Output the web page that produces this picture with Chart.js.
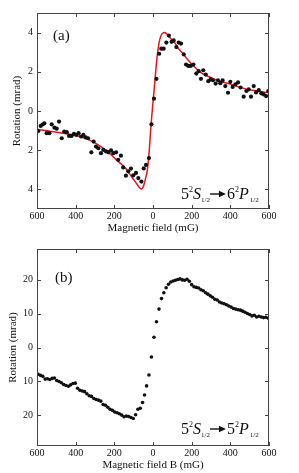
<!DOCTYPE html>
<html>
<head>
<meta charset="utf-8">
<script src="https://cdn.jsdelivr.net/npm/chart.js@4.4.1/dist/chart.umd.min.js"></script>
<style>
  html, body { margin: 0; padding: 0; background: #fff; }
  #wrap { position: relative; width: 299px; height: 473px; }
  canvas { position: absolute; left: 0; }
</style>
</head>
<body>
<div id="wrap">
  <canvas id="chartA" width="299" height="236" style="top:0"></canvas>
  <canvas id="chartB" width="299" height="237" style="top:236px"></canvas>
</div>
<script>
// panel (a): measured points
const topX = [-593,-581,-571,-562,-550,-536,-524,-510,-498,-486,-472,-459,-446,-434,-421,-409,-397,-385,-372,-360,-348,-336,
  -319,-307,-295,-283,-269,-257,-243,-231,-217,-205,-191,-180,-166,-154,-140,-128,-114,-102,-88,-76,-60,-48,-36,-21,
  -8,5,18,32,43,55,69,82,96,107,121,133,145,159,171,183,195,209,
  224,236,248,260,273,286,298,310,324,336,348,360,374,388,400,412,426,440,453,469,483,495,507,521,533,547,560,572,585,596];
const topY = [-1.02,-0.76,-0.69,-0.63,-1.13,-1.13,-0.68,-0.85,-0.9,-0.54,-1.39,-1.05,-1.08,-1.27,-1.27,-1.17,-1.22,-1.13,-1.3,-1.22,-1.35,-1.39,
  -2.11,-1.56,-1.81,-1.9,-2.15,-1.98,-2.06,-2.1,-2.01,-2.15,-2.11,-2.49,-2.28,-2.88,-3.3,-3.08,-2.94,-3.28,-3.16,-3.42,-3.6,-2.93,-2.75,-2.4,
  -0.68,0.63,1.64,2.92,3.18,3.18,3.49,3.85,3.53,3.6,3.26,3.49,3.44,2.89,2.37,2.3,2.3,2.37,
  1.91,2.03,1.64,2.08,1.86,1.52,1.61,1.57,1.4,1.57,1.42,1.56,1.27,0.93,1.49,1.23,1.36,1.46,1.2,0.73,1.02,1.1,0.73,1.27,0.95,1.07,0.9,0.85,0.76,1.02];

// panel (a): fitted curve (red)
const fitX = [-600,-500,-400,-330,-260,-220,-190,-170,-140,-120,-100,-85,-70,-60,-50,-40,-30,-20,-12,-5,0,5,10,20,30,40,50,60,70,85,100,115,130,150,180,210,250,300,350,400,460,530,600];
const fitY = [-0.93,-1.08,-1.25,-1.47,-1.88,-2.2,-2.48,-2.66,-2.95,-3.22,-3.5,-3.7,-3.92,-3.98,-3.86,-3.5,-3.05,-2.1,-0.96,-0.1,0.45,1.0,1.55,2.65,3.4,3.82,3.97,4.0,3.95,3.78,3.6,3.45,3.2,2.98,2.62,2.3,1.95,1.7,1.5,1.37,1.18,1.03,0.93];

// panel (b): measured points
const botX = [-594,-582,-570,-558,-546,-534,-522,-510,-498,-486,-474,-462,-450,-438,-426,-414,-402,-390,-378,-366,-354,-342,-330,-318,-306,-294,-282,-270,-258,-246,-234,-222,-210,-198,-186,-174,-162,-150,-138,-126,-114,-102,-90,-78,-66,-54,
  -44,-33,-21,-8,5,18,31,44,56,68,80,
  92,104,116,128,140,152,164,176,188,200,212,224,236,248,260,272,284,296,308,320,332,344,356,368,380,392,404,416,428,440,452,464,476,488,500,512,524,536,548,560,572,584,596];
const botY = [-7.9,-8.2,-8.5,-9.3,-9.2,-9.4,-9.1,-9.0,-9.7,-10.0,-10.4,-10.9,-11.2,-11.4,-11.0,-10.6,-10.5,-12.0,-12.6,-12.8,-13.0,-13.6,-14.2,-14.4,-15.0,-15.3,-15.5,-15.8,-16.8,-17.0,-17.6,-18.2,-18.5,-19.0,-19.2,-19.5,-19.9,-20.4,-20.2,-20.3,-20.6,-20.9,-19.8,-18.2,-17.9,-16.2,
  -14.0,-11.3,-8.1,-2.8,3.0,7.6,11.3,14.4,16.1,17.6,18.6,
  19.3,19.6,19.8,20.0,20.2,19.9,19.8,20.1,19.5,18.5,17.9,17.7,17.5,17.0,16.7,16.1,15.7,15.2,14.8,14.2,14.0,13.4,13.1,12.9,12.6,12.2,11.9,11.5,11.3,11.1,11.0,10.7,10.4,10.0,9.7,9.3,9.5,9.0,9.2,9.0,8.8,8.9,8.6];

const xTicks = [-600,-400,-200,0,200,400,600];
const topYTicks = [-4,-2,0,2,4];
const botYTicks = [-20,-10,0,10,20];

const SERIF = '"Liberation Serif", "DejaVu Serif", serif';
const INK = '#111';

const pairs = (xs, ys) => xs.map((x, i) => ({ x, y: ys[i] }));

// box around the plot with inward ticks on all four sides
const framePlugin = {
  id: 'frame',
  afterDatasetsDraw(chart) {
    const { ctx, chartArea: a, scales: { x, y } } = chart;
    ctx.save();
    ctx.strokeStyle = '#444';
    ctx.lineWidth = 1;
    ctx.strokeRect(a.left + 0.5, a.top + 0.5, a.right - a.left - 1, a.bottom - a.top - 1);
    ctx.beginPath();
    x.ticks.forEach(t => {
      const px = Math.round(x.getPixelForValue(t.value)) + 0.5;
      ctx.moveTo(px, a.bottom); ctx.lineTo(px, a.bottom - 4);
      ctx.moveTo(px, a.top); ctx.lineTo(px, a.top + 4);
    });
    y.ticks.forEach(t => {
      const py = Math.round(y.getPixelForValue(t.value)) + 0.5;
      ctx.moveTo(a.left, py); ctx.lineTo(a.left + 4, py);
      ctx.moveTo(a.right, py); ctx.lineTo(a.right - 4, py);
    });
    ctx.stroke();
    ctx.restore();
  }
};

// panel tag and the transition label
const textPlugin = {
  id: 'panelText',
  afterDraw(chart, args, o) {
    const ctx = chart.ctx;
    ctx.save();
    ctx.fillStyle = INK;
    ctx.strokeStyle = INK;
    ctx.textBaseline = 'alphabetic';
    ctx.textAlign = 'left';
    ctx.font = '15px ' + SERIF;
    ctx.fillText(o.tag, o.tagX, o.tagY);
    let x = o.tx;
    const b = o.ty;
    const put = (s, size, dy, italic, gap) => {
      ctx.font = (italic ? 'italic ' : '') + size + 'px ' + SERIF;
      ctx.fillText(s, x, b + dy);
      x += ctx.measureText(s).width + (gap || 0);
    };
    put(o.lower[0], 16, 0, false);
    put('2', 8, -7, false);
    put('S', 16, 0, true);
    put('1/2', 7, 3, false, 0);
    // arrow: shaft and solid head
    const ay = b - 5;
    ctx.lineWidth = 1.4;
    ctx.beginPath(); ctx.moveTo(x, ay); ctx.lineTo(x + 10, ay); ctx.stroke();
    ctx.beginPath(); ctx.moveTo(x + 9, ay - 3.2); ctx.lineTo(x + 16, ay); ctx.lineTo(x + 9, ay + 3.2); ctx.closePath(); ctx.fill();
    x += 17;
    put(o.upper[0], 16, 0, false);
    put('2', 8, -7, false);
    put(o.upper[1], 16, 0, true, 1);
    put('1/2', 7, 3, false);
    ctx.restore();
  }
};

function makeOptions(yMin, yMax, yTicks, xTitle, yTitlePad, text) {
  return {
    responsive: false,
    animation: false,
    layout: { padding: { top: 13, right: 30, left: 0, bottom: 0 }, autoPadding: false },
    plugins: { legend: { display: false }, tooltip: { enabled: false }, panelText: text },
    scales: {
      x: {
        type: 'linear', min: -600, max: 600,
        afterBuildTicks: s => { s.ticks = xTicks.map(v => ({ value: v })); },
        afterFit: s => { s.height = 27; },
        grid: { display: false, drawTicks: false },
        border: { display: false },
        ticks: { callback: v => Math.abs(v), color: INK, padding: 1, maxRotation: 0, autoSkip: false, font: { family: SERIF, size: 10 } },
        title: { display: true, text: xTitle, color: INK, padding: { top: 0, bottom: 1 }, font: { family: SERIF, size: 11 } }
      },
      y: {
        type: 'linear', min: yMin, max: yMax,
        afterBuildTicks: s => { s.ticks = yTicks.map(v => ({ value: v })); },
        afterFit: s => { s.width = 37; },
        grid: { display: false, drawTicks: false },
        border: { display: false },
        ticks: { callback: v => Math.abs(v), color: INK, padding: 4, font: { family: SERIF, size: 10 } },
        title: { display: true, text: 'Rotation (mrad)', color: INK, padding: { top: yTitlePad, bottom: 0 }, font: { family: SERIF, size: 11 } }
      }
    }
  };
}

new Chart(document.getElementById('chartA'), {
  type: 'scatter',
  data: {
    datasets: [
      { data: pairs(topX, topY), pointRadius: 2.1, pointBackgroundColor: INK, pointBorderWidth: 0 },
      { type: 'line', data: pairs(fitX, fitY), showLine: true, borderColor: '#e8161c', borderWidth: 1.5, pointRadius: 0, cubicInterpolationMode: 'monotone', fill: false }
    ]
  },
  options: makeOptions(-5, 5, topYTicks, 'Magnetic field (mG)', 11,
    { tag: '(a)', tagX: 53, tagY: 40, tx: 181, ty: 199, lower: ['5'], upper: ['6', 'P'] }),
  plugins: [framePlugin, textPlugin]
});

new Chart(document.getElementById('chartB'), {
  type: 'scatter',
  data: {
    datasets: [
      { data: pairs(botX, botY), pointRadius: 1.8, pointBackgroundColor: INK, pointBorderWidth: 0 }
    ]
  },
  options: makeOptions(-29, 29, botYTicks, 'Magnetic field B (mG)', 6.5,
    { tag: '(b)', tagX: 55, tagY: 46, tx: 181, ty: 198, lower: ['5'], upper: ['5', 'P'] }),
  plugins: [framePlugin, textPlugin]
});
</script>
</body>
</html>
